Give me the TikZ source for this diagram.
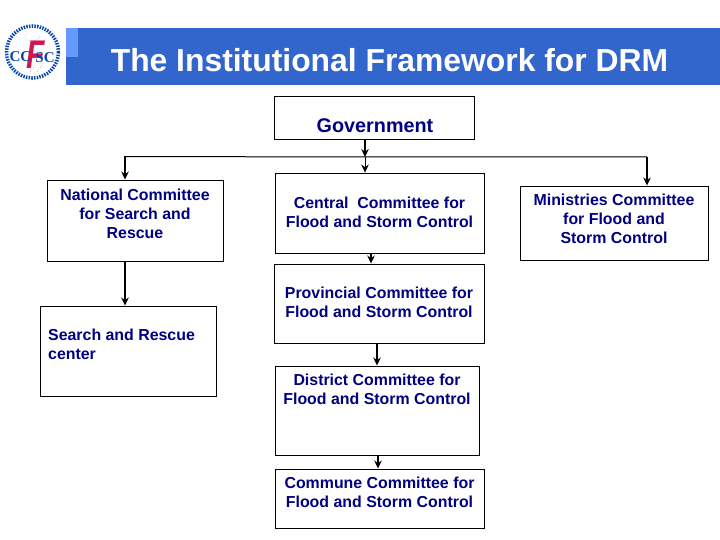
\documentclass[tikz,border=0pt]{standalone}
\usepackage{fontspec}
\setmainfont{Liberation Sans}
\newfontfamily\logofont{Liberation Serif}
\usetikzlibrary{positioning,arrows.meta,calc}
\definecolor{TitleBlue}{RGB}{51,102,204}
\definecolor{CornerBlue}{RGB}{102,153,255}
\definecolor{BoxText}{RGB}{0,0,128}
\definecolor{LogoRed}{RGB}{214,20,80}
\definecolor{LogoBlue}{RGB}{10,70,170}

\begin{document}
\begin{tikzpicture}[x=1pt, y=-1pt, font=\fontsize{15.9}{19}\selectfont\bfseries, every node/.style={align=center}]
\tikzset{
  box/.style={draw, line width=0.9pt, inner sep=0pt, text=BoxText},
  tag/.style={text=BoxText, inner sep=0pt},
  logotext/.style={text=LogoBlue, font=\logofont\fontsize{15}{15}\selectfont\bfseries, inner sep=0pt},
  arr/.style={-{Stealth[length=8pt,width=7.5pt]}, line width=1.5pt},
  bus/.style={line width=1pt}
}
  \useasboundingbox (0,0) rectangle (720,540);
  % heading
  \fill[TitleBlue] (66,28) rectangle (720,85);
  \fill[CornerBlue] (66,28) rectangle (78,57);
  \node[text=white, font=\fontsize{31.85}{36}\selectfont\bfseries] (title) at (389.5,60) {The Institutional Framework for DRM};
  % logo
  \draw[LogoBlue, line width=3.5pt, dash pattern=on 1.5pt off 1.2pt] (32.5,52) circle (26);
  \draw[gray, line width=0.5pt, dotted] (24,36) arc (180:0:8 and 5);
  \draw[gray, line width=0.5pt, dotted] (29,74) -- (36,64) (36,74) -- (44,62);
  \node[text=LogoRed, font=\fontsize{40}{40}\selectfont\bfseries\itshape, inner sep=0pt, xscale=0.75] (logof) at (36,55) {F};
  \node[logotext] (logocc) at (20.5,56.5) {CC};
  \node[logotext] (logosc) at (45,57.5) {SC};

  \node[box, minimum width=200pt, minimum height=43.5pt] (government) at (374.5,117.75) {};
  \node[tag, font=\fontsize{19.8}{22}\selectfont\bfseries] (governmenttag) at (375,126) {Government};
  \node[box, minimum width=176pt, minimum height=81pt] (national) at (135,220.5) {};
  \node[tag] (nationaltag) at (135,213.5) {National Committee\\for Search and\\Rescue};
  \node[box, minimum width=209pt, minimum height=80pt] (central) at (379.5,213) {};
  \node[tag] (centraltag) at (379.5,212) {Central~ Committee for\\Flood and Storm Control};
  \node[box, minimum width=188pt, minimum height=74pt] (ministries) at (614,223) {};
  \node[tag] (ministriestag) at (614,219) {Ministries Committee\\for Flood and\\Storm Control};
  \node[box, minimum width=176pt, minimum height=90pt] (search) at (128,351) {};
  \node[tag, align=left, anchor=west] (searchtag) at (48,344) {Search and Rescue\\center};
  \node[box, minimum width=210pt, minimum height=79pt] (provincial) at (379,303.5) {};
  \node[tag] (provincialtag) at (379,302) {Provincial Committee for\\Flood and Storm Control};
  \node[box, minimum width=204pt, minimum height=89pt] (district) at (377,410.5) {};
  \node[tag] (districttag) at (377,389) {District Committee for\\Flood and Storm Control};
  \node[box, minimum width=209pt, minimum height=59pt] (commune) at (379.5,498.5) {};
  \node[tag] (communetag) at (379.5,492) {Commune Committee for\\Flood and Storm Control};

  \coordinate (junction) at (365,157);
  \coordinate (leftdrop) at (125,156.5);
  \coordinate (rightdrop) at (647,157);
  \draw[bus] (leftdrop) -- (junction) -- (rightdrop);
  \draw[arr] (government.south -| junction) -- (junction);
  \draw[arr, line width=0.8pt] (junction) -- (central.north -| junction);
  \draw[arr] (leftdrop) -- (national.north -| leftdrop);
  \draw[arr] (rightdrop) -- (ministries.north -| rightdrop);
  \draw[arr] (national.south -| leftdrop) -- (search.north -| leftdrop);
  \draw[arr] ([xshift=-8.5pt]central.south) -- ([xshift=-8pt]provincial.north);
  \draw[arr] ([xshift=-2pt]provincial.south) -- (district.north);
  \draw[arr] ([xshift=1pt]district.south) -- ([xshift=-1.5pt]commune.north);
\end{tikzpicture}
\end{document}
